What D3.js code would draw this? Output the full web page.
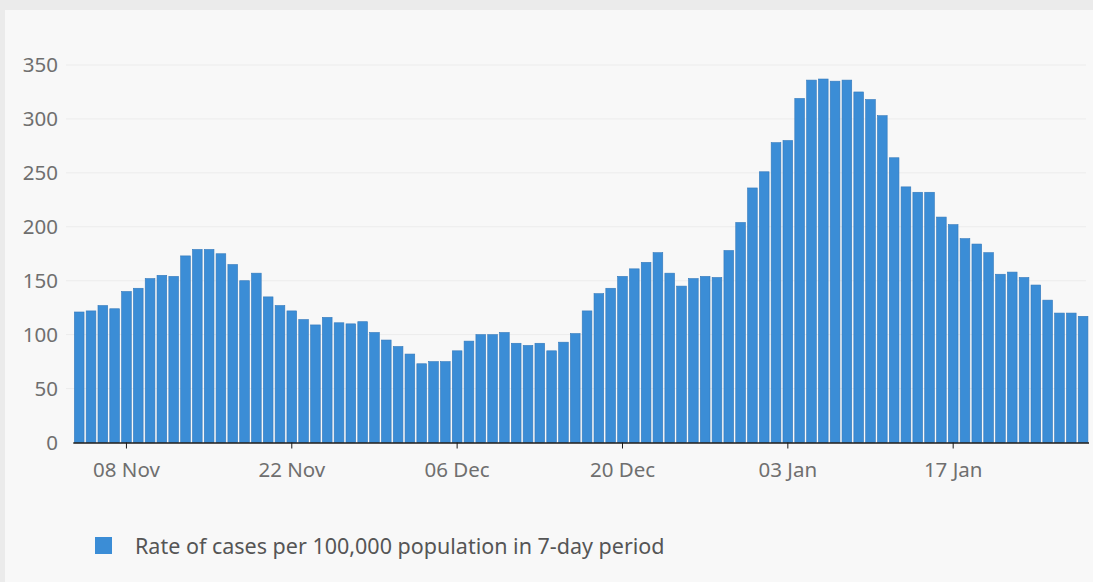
<!DOCTYPE html>
<html>
<head>
<meta charset="utf-8">
<script src="https://cdn.jsdelivr.net/npm/d3@7"></script>
<style>
    html, body { margin: 0; padding: 0; background: #ebebeb; }
    svg { display: block; }
    text { font-family: "Noto Sans", sans-serif; fill: #6f6f6f; }
</style>
</head>
<body>
<div id="chart"></div>
<script>
// データ
const startDate = new Date(2020, 10, 4);
const rateValues = [
    121, 122, 127, 124, 140, 143, 152, 155, 154, 173,
    179, 179, 175, 165, 150, 157, 135, 127, 122, 114,
    109, 116, 111, 110, 112, 102, 95, 89, 82, 73,
    75, 75, 85, 94, 100, 100, 102, 92, 90, 92,
    85, 93, 101, 122, 138, 143, 154, 161, 167, 176,
    157, 145, 152, 154, 153, 178, 204, 236, 251, 278,
    280, 319, 336, 337, 335, 336, 325, 318, 303, 264,
    237, 232, 232, 209, 202, 189, 184, 176, 156, 158,
    153, 146, 132, 120, 120, 117
];
const dates = rateValues.map((v, i) => d3.timeDay.offset(startDate, i));
const tickLabels = ['08 Nov', '22 Nov', '06 Dec', '20 Dec', '03 Jan', '17 Jan'];
const yTicks = [0, 50, 100, 150, 200, 250, 300, 350];
const legendLabel = 'Rate of cases per 100,000 population in 7-day period';

const width = 1093;
const height = 582;
const fmt = d3.timeFormat('%d %b');

const svg = d3.select('#chart')
    .append('svg')
    .attr('width', width)
    .attr('height', height);

// 背景パネル
svg.append('rect')
    .attr('x', 5)
    .attr('y', 10)
    .attr('width', width - 5)
    .attr('height', height - 10)
    .attr('fill', '#f8f8f8');

const x = d3.scaleBand()
    .domain(dates.map(fmt))
    .range([73.3, 1089])
    .paddingInner(0.18)
    .paddingOuter(0.09);

const y = d3.scaleLinear()
    .domain([0, 350])
    .range([442.5, 65]);

// グリッド線
svg.append('g')
    .selectAll('line')
    .data(yTicks.filter(d => d > 0))
    .enter()
    .append('line')
    .attr('x1', 66)
    .attr('x2', 1086)
    .attr('y1', d => y(d))
    .attr('y2', d => y(d))
    .attr('stroke', '#ececec')
    .attr('stroke-width', 1);

// Y軸ラベル
svg.append('g')
    .selectAll('text')
    .data(yTicks)
    .enter()
    .append('text')
    .attr('x', 58)
    .attr('y', d => y(d))
    .attr('dy', '0.35em')
    .attr('text-anchor', 'end')
    .style('font-size', '20.5px')
    .text(d => d);

// バー
svg.append('g')
    .selectAll('rect')
    .data(rateValues)
    .enter()
    .append('rect')
    .attr('x', (d, i) => x(fmt(dates[i])))
    .attr('y', d => y(d))
    .attr('width', x.bandwidth())
    .attr('height', d => y(0) - y(d))
    .attr('fill', '#3b8dd6')
    .attr('stroke', '#3479bb')
    .attr('stroke-width', 0.6);

// X軸
const xAxis = d3.axisBottom(x)
    .tickValues(tickLabels)
    .tickSize(6)
    .tickSizeOuter(0);

const gx = svg.append('g')
    .attr('transform', `translate(0,${y(0)})`)
    .call(xAxis);

gx.select('.domain')
    .attr('stroke', '#1b1b1b')
    .attr('stroke-width', 1.5)
    .attr('d', `M73.3,0.5H1089`);
gx.selectAll('.tick line').attr('stroke', '#1b1b1b');
gx.selectAll('.tick text')
    .attr('y', 20)
    .style('font-size', '20.5px')
    .style('font-family', '"Noto Sans", sans-serif')
    .attr('fill', '#6f6f6f');

// 凡例
svg.append('rect')
    .attr('x', 95)
    .attr('y', 537)
    .attr('width', 17)
    .attr('height', 17)
    .attr('fill', '#3b8dd6');

svg.append('text')
    .attr('x', 135)
    .attr('y', 546)
    .attr('dy', '0.35em')
    .style('font-size', '21.5px')
    .style('fill', '#555')
    .text(legendLabel);
</script>
</body>
</html>
